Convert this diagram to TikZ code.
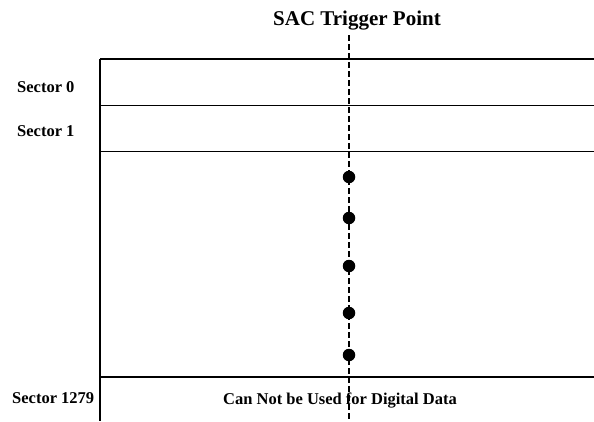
\documentclass[tikz,border=0pt]{standalone}
\usepackage{fontspec}
\setmainfont{Liberation Serif}

\def\boxleft{100}
\def\boxright{594}
\def\trigx{349}

\begin{document}
\begin{tikzpicture}[x=1pt,y=-1pt,
    lbl/.style={font=\bfseries\fontsize{16.5}{18}\selectfont, inner sep=0pt, anchor=base west},
    dot/.style={circle, fill=black, minimum size=12.5pt, inner sep=0pt}]
    \useasboundingbox (0,0) rectangle (594,421);
    % sector rows
    \foreach \y in {59,105.5,151.5,377} {
      \draw[line width=1.2pt] (\boxleft,\y) -- (\boxright,\y);
    }
    \draw[line width=1.2pt] (\boxleft,59) -- (\boxleft,421);

    \node[font=\bfseries\fontsize{21}{24}\selectfont, inner sep=0pt, anchor=base] (title) at (357,25) {SAC Trigger Point};
    \coordinate (trigtop) at (\trigx,35);
    \coordinate (trigbot) at (\trigx,421);
    \draw[line width=1.6pt, dash pattern=on 6pt off 3pt] (trigtop) -- (trigbot);
    \foreach \y [count=\i] in {177,218,266,313,355} {
      \node[dot] (dot\i) at (\trigx,\y) {};
    }

    \node[lbl] (sec0) at (17,92) {Sector 0};
    \node[lbl] (sec1) at (17,136) {Sector 1};
    \node[lbl] (seclast) at (12,403) {Sector 1279};
    \node[lbl, anchor=base] (nodata) at (340,404) {Can Not be Used for Digital Data};
\end{tikzpicture}
\end{document}
